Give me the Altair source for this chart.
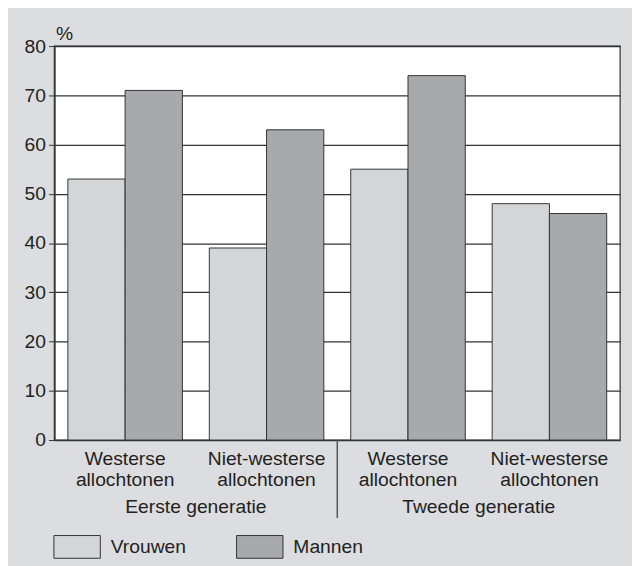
import altair as alt
import pandas as pd

groups = ["Eerste generatie", "Tweede generatie"]
origins = ["Westerse allochtonen", "Niet-westerse allochtonen"]
series = ["Vrouwen", "Mannen"]
vrouwen = [53, 39, 55, 48]
mannen = [71, 63, 74, 46]
colors = ["#d4d5d8", "#a8a9ac"]
y_ticks = [0, 10, 20, 30, 40, 50, 60, 70, 80]

cats = [f"{g}|{o}" for g in groups for o in origins]
rows = []
for i, c in enumerate(cats):
    rows.append({"cat": c, "sex": series[0], "value": vrouwen[i]})
    rows.append({"cat": c, "sex": series[1], "value": mannen[i]})
df = pd.DataFrame(rows)

grp_df = pd.DataFrame({"cat": [f"{g}|{origins[0]}" for g in groups], "label": groups})
sep_df = pd.DataFrame({"cat": [f"{groups[1]}|{origins[0]}"]})

FONT = "Liberation Sans"
FS = 19.5
INK = "#231f20"
W, H = 573, 399

xscale = alt.Scale(domain=cats, paddingInner=0, paddingOuter=0)

bars = alt.Chart(df).mark_bar(stroke="#333333", strokeWidth=1).encode(
    x=alt.X("cat:N", scale=xscale, sort=cats,
            axis=alt.Axis(title=None, ticks=False, domain=False, labelAngle=0,
                          labelExpr="split(split(datum.value, '|')[1], ' ')",
                          labelFontSize=FS, labelFont=FONT, labelColor=INK,
                          labelPadding=10, labelLineHeight=21, labelBaseline="top")),
    xOffset=alt.XOffset("sex:N", sort=series,
                        scale=alt.Scale(domain=series, paddingInner=0, paddingOuter=0.235)),
    y=alt.Y("value:Q", scale=alt.Scale(domain=[0, 80], nice=False),
            axis=alt.Axis(values=y_ticks, title="%", titleAngle=0, titleAlign="left",
                          titleX=1, titleY=-7, titleBaseline="alphabetic",
                          titleFontSize=FS, titleFontWeight="normal", titleFont=FONT,
                          titleColor=INK, labelFontSize=FS, labelFont=FONT, labelColor=INK,
                          labelPadding=3, tickSize=6, tickColor="#333333",
                          domainColor="#333333", domainWidth=1.5,
                          grid=True, gridColor="#333333", gridWidth=1.3)),
    color=alt.Color("sex:N", sort=series,
                    scale=alt.Scale(domain=series, range=colors),
                    legend=alt.Legend(title=None, orient="none", legendX=-1, legendY=483,
                                      direction="horizontal",
                                      symbolType="M-1,-0.49H1V0.49H-1Z", symbolSize=2209,
                                      symbolStrokeColor="#333333", symbolStrokeWidth=1,
                                      symbolOpacity=1,
                                      labelFontSize=FS, labelFont=FONT, labelColor=INK,
                                      labelOffset=10, columnPadding=48, padding=0)),
)

grp_text = alt.Chart(grp_df).mark_text(
    font=FONT, fontSize=FS, color=INK, baseline="alphabetic", align="center"
).encode(
    x=alt.X("cat:N", scale=xscale, sort=cats, bandPosition=1),
    y=alt.value(H + 74),
    text="label:N",
)

sep = alt.Chart(sep_df).mark_rule(color="#555555", strokeWidth=1.5).encode(
    x=alt.X("cat:N", scale=xscale, sort=cats, bandPosition=0),
    y=alt.value(H),
    y2=alt.value(H + 79),
)

chart = alt.layer(bars, grp_text, sep).properties(
    width=W, height=H,
    autosize=alt.AutoSizeParams(type="none"),
    padding={"left": 47, "top": 35, "right": 12, "bottom": 124},
    background="#dcdde0",
).configure_view(
    fill="white", stroke="#555555", strokeWidth=1.5
)

chart.save("out.html", embed_options={"renderer": "svg", "actions": False})
